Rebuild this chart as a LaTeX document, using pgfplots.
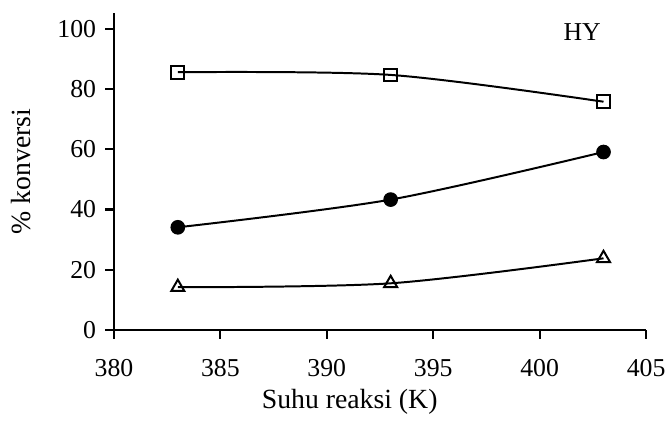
\documentclass[border=0pt]{standalone}
\usepackage{fontspec}
\setmainfont{Liberation Serif}
\usepackage{pgfplots}
\pgfplotsset{compat=1.18}
\begin{document}
\begin{tikzpicture}
\begin{axis}[
  scale only axis,
  width=268.5pt, height=160pt,
  xmin=380, xmax=405, ymin=0, ymax=105.3,
  axis lines*=left,
  axis line style={line width=1.1pt},
  tick style={line width=1.1pt, black},
  tick align=outside,
  major tick length=4.5pt,
  xtick={380,385,...,405},
  ytick={0,20,...,100},
  /pgf/number format/assume math mode=true,
  /pgf/number format/1000 sep={},
  ticklabel style={font=\fontsize{13}{15}\selectfont},
  xticklabel style={yshift=-7pt},
  yticklabel style={xshift=-1pt},
  xlabel={Suhu reaksi (K)},
  ylabel={\% konversi},
  label style={font=\fontsize{14}{16}\selectfont},
  xlabel style={at={(axis description cs:0.443,-0.226)}, anchor=center},
  ylabel style={at={(axis description cs:-0.175,0.5)}, anchor=center},
  clip=false,
]
\addplot[black, line width=1pt, smooth, tension=0.5, mark=square, mark size=3.2pt, mark options={fill=white, line width=1pt}]
  coordinates {(383,85.6) (393,84.7) (403,75.8)};
\addplot[black, line width=1pt, smooth, tension=0.5, mark=*, mark size=3.2pt, mark options={fill=black}]
  coordinates {(383,34.1) (393,43.3) (403,59.1)};
\addplot[black, line width=1pt, smooth, tension=0.5, mark=triangle, mark size=3.8pt, mark options={fill=white, line width=1pt}]
  coordinates {(383,14.2) (393,15.5) (403,23.8)};
\node[font=\fontsize{13}{15}\selectfont] at (axis cs:402,99) {HY};
\end{axis}
\useasboundingbox (-57.5pt,-39pt) rectangle (278.5pt,166.5pt);
\end{tikzpicture}
\end{document}
